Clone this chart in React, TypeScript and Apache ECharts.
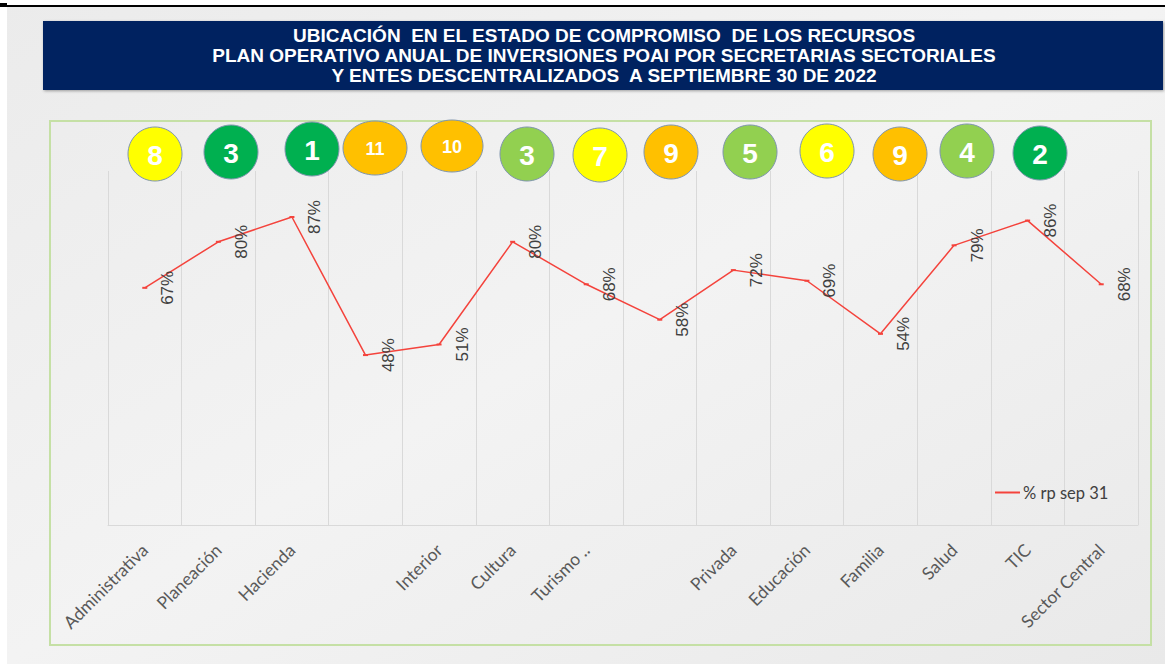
import React, { useEffect, useRef } from "react";
import * as echarts from "echarts";

const titleLines = [
  "UBICACIÓN  EN EL ESTADO DE COMPROMISO  DE LOS RECURSOS",
  "PLAN OPERATIVO ANUAL DE INVERSIONES POAI POR SECRETARIAS SECTORIALES",
  "Y ENTES DESCENTRALIZADOS  A SEPTIEMBRE 30 DE 2022",
];

const categories = [
  "Administrativa",
  "Planeación",
  "Hacienda",
  "",
  "Interior",
  "Cultura",
  "Turismo ..",
  "",
  "Privada",
  "Educación",
  "Familia",
  "Salud",
  "TIC",
  "Sector Central",
];

const seriesName = "% rp sep 31";
const values = [0.67, 0.8, 0.87, 0.48, 0.51, 0.8, 0.68, 0.58, 0.72, 0.69, 0.54, 0.79, 0.86, 0.68];

// Ranking badges shown above the chart
const rankValues = ["8", "3", "1", "11", "10", "3", "7", "9", "5", "6", "9", "4", "2"];
const rankColors = [
  "#FFFF00",
  "#00B050",
  "#00B050",
  "#FFC000",
  "#FFC000",
  "#92D050",
  "#FFFF00",
  "#FFC000",
  "#92D050",
  "#FFFF00",
  "#FFC000",
  "#92D050",
  "#00B050",
];

// layout of badges (centre x, centre y, rx, ry)
const badgeLayout = [
  [155, 154, 27, 27],
  [231, 152, 27, 27],
  [312, 149, 27, 27],
  [375, 148, 32, 27],
  [452, 146, 31, 26],
  [527, 154, 27, 27],
  [600, 155, 27, 27],
  [671, 152, 27, 27],
  [750, 152, 27, 27],
  [827, 151, 27, 27],
  [900, 154, 27, 27],
  [967, 151, 27, 27],
  [1040, 153, 27, 27],
];

export default function App() {
  const ref = useRef<HTMLDivElement>(null);

  useEffect(() => {
    if (!ref.current) return;
    const chart = echarts.init(ref.current, null, { renderer: "svg" });

    const badges: any[] = rankValues.map((v, i) => {
      const [cx, cy, rx, ry] = badgeLayout[i];
      const big = v.length === 1;
      return {
        type: "group",
        z: 100,
        children: [
          {
            type: "ellipse",
            shape: { cx, cy, rx, ry },
            style: { fill: rankColors[i], stroke: "#7f95ae", lineWidth: 1 },
            z: 100,
          },
          {
            type: "text",
            x: cx,
            y: cy + 1,
            z: 101,
            style: {
              text: v,
              align: "center",
              verticalAlign: "middle",
              fill: "#ffffff",
              fontSize: big ? 28 : 18,
              fontWeight: "bold",
              fontFamily: "Liberation Sans, Arial, sans-serif",
            },
          },
        ],
      };
    });

    const option: any = {
      animation: false,
      backgroundColor: new echarts.graphic.LinearGradient(0, 0, 1, 1, [
        { offset: 0, color: "#ebebeb" },
        { offset: 0.5, color: "#f3f3f3" },
        { offset: 1, color: "#e9e9e9" },
      ]),
      grid: { left: 108, right: 27, top: 171, bottom: 139, containLabel: false },
      legend: {
        data: [seriesName],
        left: 990,
        top: 479,
        itemWidth: 25,
        itemHeight: 2,
        icon: "rect",
        itemGap: 4,
        textStyle: { color: "#404040", fontSize: 16.5, fontFamily: "Lato, sans-serif", padding: [0, 0, 0, -2] },
      },
      xAxis: {
        type: "category",
        data: categories,
        boundaryGap: true,
        axisLine: { show: true, lineStyle: { color: "#d9d9d9", width: 1 } },
        axisTick: { show: false },
        splitLine: { show: true, lineStyle: { color: "#d9d9d9", width: 1 } },
        axisLabel: {
          interval: 0,
          rotate: 45,
          margin: 22,
          color: "#595959",
          fontSize: 17.5,
          fontFamily: "Lato, sans-serif",
        },
      },
      yAxis: {
        type: "value",
        min: 0,
        max: 1,
        show: false,
        splitLine: { show: false },
      },
      series: [
        {
          name: seriesName,
          type: "line",
          data: values,
          symbol: "rect",
          symbolSize: [5, 2],
          itemStyle: { color: "#f4433c" },
          lineStyle: { color: "#f4433c", width: 1.5 },
          label: {
            show: true,
            position: [25.5, 1],
            rotate: 90,
            align: "center",
            verticalAlign: "middle",
            formatter: (p: any) => Math.round(p.value * 100) + "%",
            color: "#404040",
            fontSize: 17,
            fontFamily: "Liberation Sans, Arial, sans-serif",
          },
          z: 5,
        },
      ],
      graphic: [
        { type: "rect", shape: { x: 0, y: 0, width: 1165, height: 5 }, style: { fill: "#ffffff" }, z: 50 },
        { type: "rect", shape: { x: 0, y: 0, width: 7, height: 664 }, style: { fill: "#ffffff" }, z: 50 },
        { type: "rect", shape: { x: 0, y: 5, width: 1165, height: 2 }, style: { fill: "#000000" }, z: 51 },
        { type: "rect", shape: { x: 0, y: 3, width: 7, height: 4 }, style: { fill: "#000000" }, z: 51 },
        {
          type: "rect",
          shape: { x: 50, y: 121, width: 1101, height: 524 },
          style: { fill: "none", stroke: "#c5e0a5", lineWidth: 2 },
          z: 1,
        },
        {
          type: "rect",
          shape: { x: 43, y: 21, width: 1120, height: 69 },
          style: {
            fill: "#002060",
            shadowBlur: 3,
            shadowColor: "rgba(0,0,0,0.35)",
            shadowOffsetX: 1,
            shadowOffsetY: 1,
          },
          z: 60,
        },
        ...titleLines.map((t, i) => ({
          type: "text",
          x: 604,
          y: 35 + i * 20,
          z: 61,
          style: {
            text: t,
            align: "center",
            verticalAlign: "middle",
            fill: "#ffffff",
            fontSize: 19,
            fontWeight: "bold",
            fontFamily: "Liberation Sans, Arial, sans-serif",
          },
        })),
        ...badges,
      ],
    };

    chart.setOption(option);
    return () => chart.dispose();
  }, []);

  return (
    <div
      ref={ref}
      style={{ position: "absolute", left: 0, top: 0, width: 1165, height: 664, background: "#ffffff" }}
    />
  );
}
